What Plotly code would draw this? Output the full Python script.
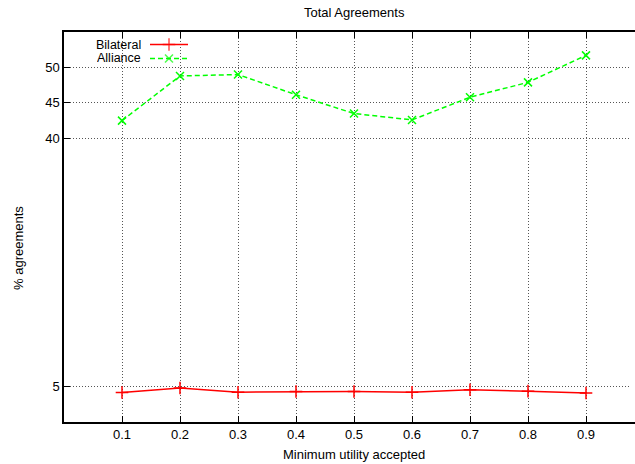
import plotly.graph_objects as go

# Minimum utility threshold on the x axis
utility = [0.1, 0.2, 0.3, 0.4, 0.5, 0.6, 0.7, 0.8, 0.9]
# Percentage of negotiations ending in an agreement
bilateral = [4.15, 4.8, 4.2, 4.3, 4.3, 4.2, 4.55, 4.35, 4.1]
alliance = [42.5, 48.8, 49.0, 46.15, 43.5, 42.6, 45.8, 47.9, 51.7]

x_ticks = [0.1, 0.2, 0.3, 0.4, 0.5, 0.6, 0.7, 0.8, 0.9]
y_ticks = [5, 40, 45, 50]

FONT = "Liberation Sans, Arial, sans-serif"
FS = 13
RED = "#ff0000"
GREEN = "#00ff00"

W, H = 635, 464
L, T, B = 64, 32, 42
PLOT_W_FULL = 580  # full frame width; right part falls outside the canvas
Y_MAX = 55
x_max = (W - L) / PLOT_W_FULL
PLOT_H = H - T - B


def px_to_paper(px, py):
    """Convert canvas pixel position to paper coordinates."""
    return (px - L) / (W - L), (H - B - py) / PLOT_H


def px_to_data(px, py):
    """Convert canvas pixel position to data coordinates of the main axes."""
    return (px - L) / PLOT_W_FULL, Y_MAX * (H - B - py) / PLOT_H


fig = go.Figure()

fig.add_trace(go.Scatter(
    x=utility, y=bilateral, mode="lines+markers", name="Bilateral",
    line=dict(color=RED, width=1.5),
    marker=dict(symbol="cross-thin-open", size=9, line=dict(color=RED, width=1.5)),
    showlegend=False,
))
fig.add_trace(go.Scatter(
    x=utility, y=alliance, mode="lines+markers", name="Alliance",
    line=dict(color=GREEN, width=1.5, dash="5px,3px"),
    marker=dict(symbol="x-thin-open", size=8, line=dict(color=GREEN, width=1.5)),
    showlegend=False,
))

# Key: label text on the left, line sample with its marker on the right
key = [("Bilateral", RED, "solid", "cross-thin-open", 9, 44.5),
       ("Alliance", GREEN, "5px,3px", "x-thin-open", 8, 58.5)]
for label, color, dash, sym, size, py in key:
    pts = [px_to_data(px, py) for px in (150, 169, 188)]
    fig.add_trace(go.Scatter(
        x=[p[0] for p in pts], y=[p[1] for p in pts],
        mode="lines+markers", showlegend=False, hoverinfo="skip",
        line=dict(color=color, width=1.5, dash=dash),
        marker=dict(symbol=sym, size=[0, size, 0], line=dict(color=color, width=1.5)),
    ))
    xp, yp = px_to_paper(143, py)
    fig.add_annotation(x=xp, y=yp, xref="paper", yref="paper", text=label,
                       showarrow=False, xanchor="right", yanchor="middle",
                       height=12, valign="middle",
                       font=dict(family=FONT, size=12.5, color="black"))

axis_common = dict(
    showline=True, linecolor="black", linewidth=1.5,
    ticks="inside", ticklen=6, tickcolor="black", tickwidth=1,
    showgrid=True, gridcolor="#555555", gridwidth=1, griddash="1px,2px",
    zeroline=False, tickfont=dict(family=FONT, size=FS, color="black"),
)

fig.update_layout(
    width=W, height=H,
    margin=dict(l=L, r=0, t=T, b=B),
    paper_bgcolor="white", plot_bgcolor="white",
    xaxis=dict(range=[0, x_max], tickvals=x_ticks, mirror="ticks",
               ticktext=[f"{v:.1f}" for v in x_ticks], **axis_common),
    yaxis=dict(range=[0, Y_MAX], tickvals=y_ticks, mirror=False, **axis_common),
)

# Keep the right edge open: the frame continues past the canvas
fig.add_annotation(x=1, y=0.5, xref="paper", yref="paper", text="",
                   showarrow=False, xanchor="right", yanchor="middle",
                   width=4, height=PLOT_H - 4, bgcolor="white", borderpad=0,
                   borderwidth=0)

# Title and axis labels
labels = [("Total Agreements", 354, 13, 0),
          ("Minimum utility accepted", 354, 455, 0),
          ("% agreements", 18, 248, -90)]
for text, px, py, angle in labels:
    xp, yp = px_to_paper(px, py)
    fig.add_annotation(x=xp, y=yp, xref="paper", yref="paper", text=text,
                       showarrow=False, xanchor="center", yanchor="middle",
                       textangle=angle,
                       font=dict(family=FONT, size=FS, color="black"))

fig.write_html("out.html")
